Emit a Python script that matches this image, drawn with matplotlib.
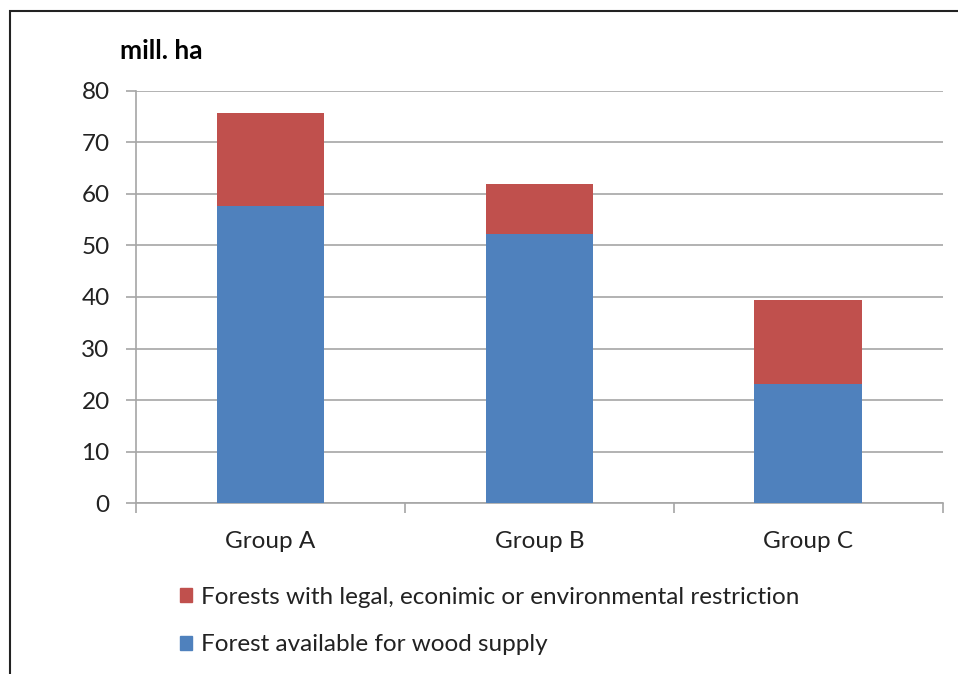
import matplotlib.pyplot as plt
from matplotlib.patches import Rectangle, Patch
import numpy as np

plt.rcParams["font.family"] = ["Lato", "DejaVu Sans"]

groups = ["Group A", "Group B", "Group C"]
available = [57.7, 52.2, 23.1]
restricted = [18.1, 9.7, 16.4]
y_ticks = [0, 10, 20, 30, 40, 50, 60, 70, 80]
labels = ["Forests with legal, econimic or environmental restriction",
          "Forest available for wood supply"]

BLUE = "#4f81bd"
RED = "#c0504d"
GRID = "#a6a6a6"
TEXT = "#222222"

fig = plt.figure(figsize=(9.58, 6.74), dpi=100)
ax = fig.add_axes([0.142, 0.2537, 0.842, 0.6113])

x = np.arange(len(groups))
ax.bar(x, available, width=0.4, color=BLUE, zorder=3)
ax.bar(x, restricted, width=0.4, bottom=available, color=RED, zorder=3)

ax.set_xlim(-0.5, len(groups) - 0.5)
ax.set_ylim(0, 80)
ax.set_yticks(y_ticks)
ax.yaxis.grid(True, color=GRID, linewidth=1.2, zorder=0)
ax.set_axisbelow(True)

for side in ["top", "right"]:
    ax.spines[side].set_visible(False)
for side in ["left", "bottom"]:
    ax.spines[side].set_color(GRID)
    ax.spines[side].set_linewidth(1.2)

ax.set_xticks(x)
ax.set_xticklabels(groups, fontsize=17.5, color=TEXT)
ax.tick_params(axis="x", length=0, pad=20)
ax.set_xticks(np.arange(-0.5, len(groups)), minor=True)
ax.tick_params(axis="x", which="minor", length=7, color=GRID, width=1.2)
ax.tick_params(axis="y", length=7, color=GRID, width=1.2, labelsize=17.5,
               labelcolor=TEXT, pad=12)

fig.text(0.125, 0.925, "mill. ha", fontsize=19, fontweight="bold", ha="left", va="center")

handles = [Patch(color=RED), Patch(color=BLUE)]
fig.legend(handles, labels, loc="upper left", bbox_to_anchor=(0.17, 0.155),
           frameon=False, fontsize=17.5, handlelength=0.5, handleheight=0.5,
           handletextpad=0.35, labelspacing=1.1, labelcolor=TEXT,
           borderpad=0.2)

fig.patches.append(Rectangle((10 / 958, -0.1), 1.2, 1 - 11 / 674 + 0.1,
                             transform=fig.transFigure, fill=False,
                             edgecolor="#222222", linewidth=1.5))

fig.savefig("out.png", dpi=100)
